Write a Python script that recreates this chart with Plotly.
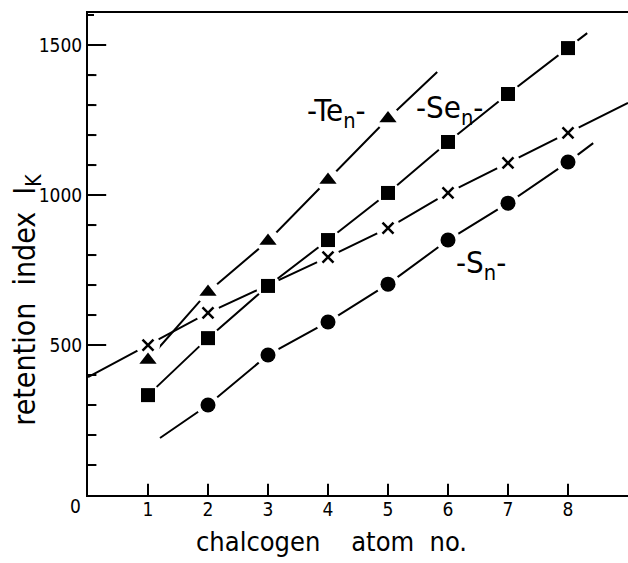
import plotly.graph_objects as go

# ---- data ----
atom_no = [1, 2, 3, 4, 5, 6, 7, 8]

te_x = [1, 2, 3, 4, 5]
te_y = [450, 677, 847, 1050, 1255]
te_line_end = (5.82, 1410)

se_x = [1, 2, 3, 4, 5, 6, 7, 8]
se_y = [333, 523, 697, 850, 1007, 1177, 1337, 1490]
se_line_end = (8.32, 1540)

cross_x = [1, 2, 4, 5, 6, 7, 8]
cross_y = [500, 607, 793, 890, 1007, 1107, 1207]
cross_line_start = (0, 393)
cross_line_end = (9, 1307)

s_x = [2, 3, 4, 5, 6, 7, 8]
s_y = [300, 467, 577, 703, 850, 973, 1110]
s_line_start = (1.2, 190)
s_line_end = (8.42, 1173)

y_major = [500, 1000, 1500]
y_minor = [v for v in range(100, 1600, 100) if v % 500 != 0]

FONT = "DejaVu Sans Condensed, Liberation Sans Narrow, DejaVu Sans"
INK = "black"
CLEAR = "rgba(0,0,0,0)"

fig = go.Figure()

def line_trace(xs, ys):
    fig.add_trace(go.Scatter(x=xs, y=ys, mode="lines",
                             line=dict(color=INK, width=2), hoverinfo="skip"))

# lines (with extensions)
line_trace(te_x + [te_line_end[0]], te_y + [te_line_end[1]])
line_trace(se_x + [se_line_end[0]], se_y + [se_line_end[1]])
line_trace([cross_line_start[0]] + cross_x + [cross_line_end[0]],
           [cross_line_start[1]] + cross_y + [cross_line_end[1]])
line_trace([s_line_start[0]] + s_x + [s_line_end[0]],
           [s_line_start[1]] + s_y + [s_line_end[1]])

# white halos to create gaps around markers
for xs, ys in [(te_x, te_y), (se_x, se_y), (cross_x, cross_y), (s_x, s_y)]:
    fig.add_trace(go.Scatter(x=xs, y=ys, mode="markers",
                             marker=dict(symbol="circle", size=24, color="white"),
                             hoverinfo="skip"))

# markers
fig.add_trace(go.Scatter(x=te_x, y=te_y, mode="markers",
                         marker=dict(symbol="triangle-up", size=15, color=INK)))
fig.add_trace(go.Scatter(x=se_x, y=se_y, mode="markers",
                         marker=dict(symbol="square", size=14, color=INK)))
fig.add_trace(go.Scatter(x=cross_x, y=cross_y, mode="markers",
                         marker=dict(symbol="x-thin", size=11,
                                     line=dict(color=INK, width=2.5))))
fig.add_trace(go.Scatter(x=s_x, y=s_y, mode="markers",
                         marker=dict(symbol="circle", size=15, color=INK)))

# inward tick marks (half of each centred line marker is clipped by the axis)
def tick_trace(xs, ys, symbol, size):
    fig.add_trace(go.Scatter(x=xs, y=ys, mode="markers", hoverinfo="skip",
                             cliponaxis=True,
                             marker=dict(symbol=symbol, size=size, color=INK,
                                         line=dict(color=INK, width=2))))

tick_trace(atom_no, [0] * len(atom_no), "line-ns", 16)
tick_trace([0] * len(y_major), y_major, "line-ew", 26)
tick_trace([0] * len(y_minor), y_minor, "line-ew", 12)

# series labels
fig.add_annotation(x=4.14, y=1275, text="-Te<sub>n</sub>-", showarrow=False,
                   font=dict(family=FONT, size=31, color=INK))
fig.add_annotation(x=6.02, y=1285, text="-Se<sub>n</sub>-", showarrow=False,
                   font=dict(family=FONT, size=31, color=INK))
fig.add_annotation(x=6.55, y=770, text="-S<sub>n</sub>-", showarrow=False,
                   font=dict(family=FONT, size=31, color=INK))

# "0" at origin
fig.add_annotation(x=0, y=0, text="0", showarrow=False, xanchor="right",
                   yanchor="top", xshift=-5, yshift=2,
                   font=dict(family=FONT, size=19, color=INK))

# axis titles
fig.add_annotation(xref="paper", yref="paper", x=0.45, y=-0.097,
                   text="chalcogen\u00a0\u00a0\u00a0\u00a0atom\u00a0\u00a0no.",
                   showarrow=False, xanchor="center", yanchor="middle",
                   font=dict(family=FONT, size=27, color=INK))
fig.add_annotation(xref="paper", yref="paper", x=-0.113, y=0.405,
                   text="retention\u00a0\u00a0index\u00a0\u00a0I<sub>K</sub>",
                   showarrow=False, textangle=-90, xanchor="center",
                   yanchor="middle",
                   font=dict(family=FONT, size=30, color=INK))

fig.update_layout(
    width=628, height=563,
    margin=dict(l=88, r=0, t=13, b=68),
    paper_bgcolor="white", plot_bgcolor="white",
    showlegend=False,
    font=dict(family=FONT, color=INK),
)
fig.update_xaxes(range=[0, 9], tickvals=atom_no, ticks="inside", ticklen=8,
                 tickwidth=2, tickcolor="#000000", showline=True, linewidth=2,
                 linecolor="black", mirror=True, gridcolor=CLEAR,
                 zerolinecolor=CLEAR, ticklabelstandoff=-4,
                 tickfont=dict(family=FONT, size=19))
fig.update_yaxes(range=[0, 1607], tickmode="linear", tick0=0, dtick=500,
                 labelalias={"0": ""}, ticks="inside", ticklen=13,
                 tickwidth=2, tickcolor="#000000", showline=True, linewidth=2,
                 linecolor="black", gridcolor=CLEAR, zerolinecolor=CLEAR,
                 minor=dict(ticks="inside", ticklen=6, tickwidth=2,
                            tickcolor="#000000", dtick=100, gridcolor=CLEAR),
                 tickfont=dict(family=FONT, size=19))

fig.write_html("out.html")
